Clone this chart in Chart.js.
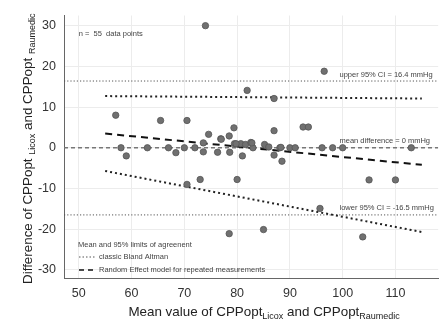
<!DOCTYPE html>
<html>
<head>
<meta charset="utf-8">
<script src="https://cdn.jsdelivr.net/npm/chart.js@4.4.1/dist/chart.umd.min.js"></script>
<style>
  html, body { margin: 0; padding: 0; background: #fff; }
</style>
</head>
<body>
<canvas id="baChart" width="443" height="324"></canvas>
<script>
// mean of the two CPPopt values (x) and their difference (y)
const meanX = [74, 57, 58, 59, 63, 65.5, 67, 68.4, 70, 70.5, 72, 73.6, 73.6, 74.6, 76.3, 76.9,
  78.5, 78.6, 79.4, 79.5, 80.7, 81, 81.6, 81.9, 82.6, 83, 85.2, 86, 87, 87, 87, 88.5, 88.1,
  90, 91, 92.5, 93.5, 96.5, 96.1, 98.1, 100, 113, 70.5, 73, 80, 105, 110, 95.7, 78.5, 85, 103.8,
  82.8, 79.8, 88.3, 77];
const diffY = [30, 8, 0, -2, 0, 6.7, 0, -1.2, 0, 6.7, 0, 1.2, -1, 3.3, -1.1, 2.2,
  2.9, -1.1, 4.9, 1.0, 1.0, -2, 0.8, 14.1, 1.3, 0, 0.8, 0.2, 12.1, 4.2, -1.8, -3.3, 0,
  0, 0, 5.1, 5.1, 18.8, 0, 0, 0, 0, -9, -7.8, -7.8, -7.9, -7.9, -14.9, -21.1, -20.1, -21.9,
  1.2, 1.0, 0.1, 2.1];

const xTicks = [50, 60, 70, 80, 90, 100, 110];
const yTicks = [-30, -20, -10, 0, 10, 20, 30];
const xMin = 47.2, xMax = 118.1;
const yMin = -32, yMax = 32.5;

// classic Bland Altman
const meanDiff = 0;
const upperCI = 16.4;
const lowerCI = -16.5;

// random effect model lines (x from 55 to 115)
const reX = [55, 115];
const reUpper = [12.7, 12.1];
const reMean = [3.5, -4.2];
const reLower = [-5.7, -20.7];

const points = meanX.map((x, i) => ({ x: x, y: diffY[i] }));
const hline = v => [{ x: xMin, y: v }, { x: xMax, y: v }];
const seg = ys => reX.map((x, i) => ({ x: x, y: ys[i] }));

const font = '"Liberation Sans", Arial, sans-serif';

function richText(ctx, parts, x, y, big, small, align) {
  let w = 0;
  parts.forEach(p => {
    ctx.font = (p[1] ? small : big) + 'px ' + font;
    w += ctx.measureText(p[0]).width;
  });
  let cx = align === 'center' ? x - w / 2 : x;
  ctx.textAlign = 'left';
  ctx.textBaseline = 'alphabetic';
  parts.forEach(p => {
    ctx.font = (p[1] ? small : big) + 'px ' + font;
    ctx.fillText(p[0], cx, y + (p[1] ? 3 : 0));
    cx += ctx.measureText(p[0]).width;
  });
}

const extras = {
  id: 'extras',
  afterDraw(chart) {
    const ctx = chart.ctx;
    const xs = chart.scales.x, ys = chart.scales.y;
    const area = chart.chartArea;
    ctx.save();
    ctx.fillStyle = '#444';
    ctx.font = '7.5px ' + font;
    ctx.textAlign = 'left';
    ctx.textBaseline = 'middle';
    ctx.fillText('n =  55  data points', xs.getPixelForValue(50), ys.getPixelForValue(28));
    const lx = xs.getPixelForValue(99.4);
    ctx.fillText('upper 95% CI = ' + upperCI + ' mmHg', lx, ys.getPixelForValue(upperCI) - 6.5);
    ctx.fillText('mean difference = ' + meanDiff + ' mmHg', lx, ys.getPixelForValue(meanDiff) - 6.5);
    ctx.fillText('lower 95% CI = ' + lowerCI + ' mmHg', lx, ys.getPixelForValue(lowerCI) - 6.5);

    // legend inside plot
    const l0 = area.left + 15;
    const b = area.bottom;
    ctx.fillText('Mean and 95% limits of agreenent', l0 - 1, b - 33);
    ctx.fillText('classic Bland Altman', l0 + 20, b - 21);
    ctx.fillText('Random Effect model for repeated measurements', l0 + 20, b - 8);
    ctx.strokeStyle = '#555';
    ctx.lineWidth = 1;
    ctx.setLineDash([1.5, 2]);
    ctx.beginPath(); ctx.moveTo(l0, b - 21); ctx.lineTo(l0 + 16, b - 21); ctx.stroke();
    ctx.strokeStyle = '#111';
    ctx.lineWidth = 1.6;
    ctx.setLineDash([5, 4]);
    ctx.beginPath(); ctx.moveTo(l0, b - 8); ctx.lineTo(l0 + 15, b - 8); ctx.stroke();
    ctx.setLineDash([]);

    // axis titles
    ctx.fillStyle = '#222';
    richText(ctx, [['Mean value of CPPopt', 0], ['Licox', 1], [' and CPPopt', 0], ['Raumedic', 1]],
      (area.left + area.right) / 2 + 13, 316, 13.4, 9, 'center');
    ctx.translate(32, (area.top + area.bottom) / 2 + 2);
    ctx.rotate(-Math.PI / 2);
    richText(ctx, [['Difference of CPPopt ', 0], ['Licox', 1], [' and CPPopt ', 0], ['Raumedic', 1]],
      0, 0, 13.4, 9, 'center');
    ctx.restore();
  }
};

const ctx = document.getElementById('baChart').getContext('2d');
new Chart(ctx, {
  type: 'scatter',
  data: {
    datasets: [
      { data: points, order: 0, pointRadius: 3.2, pointBackgroundColor: '#707070',
        pointBorderColor: '#555', pointBorderWidth: 0.8 },
      { data: hline(upperCI), showLine: true, order: 2, pointRadius: 0, borderColor: '#555',
        borderWidth: 1, borderDash: [1.2, 2] },
      { data: hline(lowerCI), showLine: true, order: 2, pointRadius: 0, borderColor: '#555',
        borderWidth: 1, borderDash: [1.2, 2] },
      { data: hline(meanDiff), showLine: true, order: 2, pointRadius: 0, borderColor: '#777',
        borderWidth: 1.3, borderDash: [4, 3] },
      { data: seg(reUpper), showLine: true, order: 1, pointRadius: 0, borderColor: '#222',
        borderWidth: 2, borderDash: [2, 3] },
      { data: seg(reMean), showLine: true, order: 1, pointRadius: 0, borderColor: '#111',
        borderWidth: 2, borderDash: [7, 5] },
      { data: seg(reLower), showLine: true, order: 1, pointRadius: 0, borderColor: '#222',
        borderWidth: 2, borderDash: [2, 3] }
    ]
  },
  options: {
    responsive: false,
    animation: false,
    layout: { padding: { top: 13, right: 3, left: 0, bottom: 0 } },
    plugins: { legend: { display: false }, tooltip: { enabled: false } },
    scales: {
      x: {
        type: 'linear', min: xMin, max: xMax,
        afterBuildTicks: s => { s.ticks = xTicks.map(v => ({ value: v })); },
        afterFit: s => { s.height = 46; },
        grid: { color: '#ececec', lineWidth: 1, drawTicks: false },
        border: { color: '#666', width: 1 },
        ticks: { padding: 8, color: '#333', font: { size: 12.5, family: font } }
      },
      y: {
        type: 'linear', min: yMin, max: yMax,
        afterBuildTicks: s => { s.ticks = yTicks.map(v => ({ value: v })); },
        afterFit: s => { s.width = 64; },
        grid: { color: '#ececec', lineWidth: 1, drawTicks: false },
        border: { color: '#666', width: 1 },
        ticks: { padding: 8, color: '#333', font: { size: 12.5, family: font } }
      }
    }
  },
  plugins: [extras]
});
</script>
</body>
</html>
